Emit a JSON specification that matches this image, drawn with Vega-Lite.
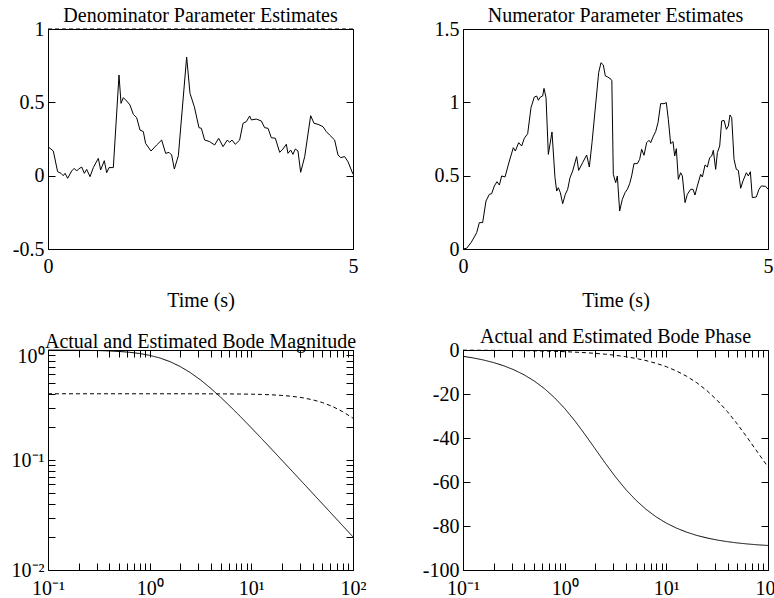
{
  "$schema": "https://vega.github.io/schema/vega-lite/v6.json",
  "background": "white",
  "padding": {"left": 11, "top": 6, "right": 5, "bottom": 0},
  "config": {
    "font": "Liberation Serif",
    "view": {"stroke": null},
    "axis": {
      "grid": false,
      "domainColor": "black",
      "domainWidth": 1,
      "tickColor": "black",
      "tickWidth": 1,
      "tickSize": -7,
      "labelPadding": 11,
      "labelColor": "black",
      "labelFont": "Liberation Serif",
      "labelFontSize": 20,
      "labelOverlap": false,
      "labelBound": false,
      "labelFlush": false,
      "titleFont": "Liberation Serif",
      "titleFontSize": 20,
      "titleFontWeight": "normal",
      "titleColor": "black"
    },
    "axisX": {"labelPadding": 14},
    "title": {"font": "Liberation Serif", "fontSize": 20, "fontWeight": "normal", "color": "black", "offset": -7, "anchor": "middle"},
    "line": {"color": "black", "strokeWidth": 1}
  },
  "datasets": {
    "den": [
      {"t": 0, "v": 0.198}, {"t": 0.087, "v": 0.168}, {"t": 0.158, "v": 0.027}, {"t": 0.213, "v": 0.016}, {"t": 0.25, "v": 0.0},
      {"t": 0.28, "v": 0.016}, {"t": 0.322, "v": -0.018}, {"t": 0.388, "v": 0.032}, {"t": 0.43, "v": 0.05}, {"t": 0.47, "v": 0.032},
      {"t": 0.5, "v": 0.045}, {"t": 0.552, "v": 0.059}, {"t": 0.596, "v": 0.016}, {"t": 0.634, "v": 0.043}, {"t": 0.689, "v": -0.007},
      {"t": 0.743, "v": 0.055}, {"t": 0.825, "v": 0.118}, {"t": 0.863, "v": 0.039}, {"t": 0.923, "v": 0.102}, {"t": 0.962, "v": 0.02},
      {"t": 1.0, "v": 0.055}, {"t": 1.071, "v": 0.055}, {"t": 1.164, "v": 0.686}, {"t": 1.197, "v": 0.493}, {"t": 1.235, "v": 0.532},
      {"t": 1.29, "v": 0.509}, {"t": 1.344, "v": 0.482}, {"t": 1.399, "v": 0.418}, {"t": 1.454, "v": 0.395}, {"t": 1.508, "v": 0.311},
      {"t": 1.563, "v": 0.3}, {"t": 1.6, "v": 0.22}, {"t": 1.689, "v": 0.168}, {"t": 1.781, "v": 0.209}, {"t": 1.863, "v": 0.243},
      {"t": 1.929, "v": 0.152}, {"t": 1.984, "v": 0.159}, {"t": 2.027, "v": 0.141}, {"t": 2.071, "v": 0.045}, {"t": 2.137, "v": 0.136},
      {"t": 2.273, "v": 0.809}, {"t": 2.328, "v": 0.561}, {"t": 2.399, "v": 0.47}, {"t": 2.475, "v": 0.327}, {"t": 2.514, "v": 0.323},
      {"t": 2.568, "v": 0.243}, {"t": 2.65, "v": 0.232}, {"t": 2.732, "v": 0.209}, {"t": 2.798, "v": 0.255}, {"t": 2.869, "v": 0.198},
      {"t": 2.94, "v": 0.243}, {"t": 2.978, "v": 0.227}, {"t": 3.016, "v": 0.243}, {"t": 3.071, "v": 0.214}, {"t": 3.142, "v": 0.243},
      {"t": 3.197, "v": 0.357}, {"t": 3.251, "v": 0.368}, {"t": 3.306, "v": 0.407}, {"t": 3.333, "v": 0.38}, {"t": 3.415, "v": 0.386},
      {"t": 3.497, "v": 0.373}, {"t": 3.552, "v": 0.327}, {"t": 3.607, "v": 0.323}, {"t": 3.661, "v": 0.259}, {"t": 3.727, "v": 0.255},
      {"t": 3.798, "v": 0.159}, {"t": 3.852, "v": 0.182}, {"t": 3.907, "v": 0.214}, {"t": 3.934, "v": 0.152}, {"t": 3.978, "v": 0.175},
      {"t": 4.016, "v": 0.145}, {"t": 4.054, "v": 0.182}, {"t": 4.098, "v": 0.168}, {"t": 4.142, "v": 0.023}, {"t": 4.208, "v": 0.13},
      {"t": 4.306, "v": 0.409}, {"t": 4.361, "v": 0.357}, {"t": 4.426, "v": 0.35}, {"t": 4.508, "v": 0.334}, {"t": 4.563, "v": 0.3},
      {"t": 4.617, "v": 0.277}, {"t": 4.699, "v": 0.243}, {"t": 4.754, "v": 0.141}, {"t": 4.798, "v": 0.123}, {"t": 4.863, "v": 0.13},
      {"t": 4.918, "v": 0.095}, {"t": 5.0, "v": 0.01}
    ],
    "denTrue": [{"t": 0, "v": 1}, {"t": 5, "v": 1}],
    "num": [
      {"t": 0, "v": 0}, {"t": 0.06, "v": 0.005}, {"t": 0.131, "v": 0.043}, {"t": 0.186, "v": 0.082}, {"t": 0.224, "v": 0.111},
      {"t": 0.268, "v": 0.18}, {"t": 0.322, "v": 0.18}, {"t": 0.377, "v": 0.327}, {"t": 0.432, "v": 0.373}, {"t": 0.47, "v": 0.377},
      {"t": 0.514, "v": 0.43}, {"t": 0.557, "v": 0.459}, {"t": 0.596, "v": 0.436}, {"t": 0.634, "v": 0.498}, {"t": 0.689, "v": 0.491},
      {"t": 0.76, "v": 0.6}, {"t": 0.825, "v": 0.691}, {"t": 0.858, "v": 0.668}, {"t": 0.913, "v": 0.725}, {"t": 0.962, "v": 0.702},
      {"t": 1.005, "v": 0.755}, {"t": 1.06, "v": 0.786}, {"t": 1.115, "v": 0.964}, {"t": 1.169, "v": 1.036}, {"t": 1.208, "v": 1.043},
      {"t": 1.235, "v": 1.014}, {"t": 1.268, "v": 1.036}, {"t": 1.306, "v": 1.043}, {"t": 1.328, "v": 1.095}, {"t": 1.361, "v": 1.032},
      {"t": 1.399, "v": 0.645}, {"t": 1.459, "v": 0.798}, {"t": 1.508, "v": 0.486}, {"t": 1.536, "v": 0.395}, {"t": 1.563, "v": 0.418},
      {"t": 1.596, "v": 0.384}, {"t": 1.634, "v": 0.309}, {"t": 1.678, "v": 0.373}, {"t": 1.716, "v": 0.407}, {"t": 1.754, "v": 0.486},
      {"t": 1.798, "v": 0.532}, {"t": 1.863, "v": 0.63}, {"t": 1.896, "v": 0.536}, {"t": 1.962, "v": 0.589}, {"t": 2.027, "v": 0.641},
      {"t": 2.071, "v": 0.559}, {"t": 2.115, "v": 0.725}, {"t": 2.18, "v": 1.009}, {"t": 2.224, "v": 1.202}, {"t": 2.262, "v": 1.27},
      {"t": 2.3, "v": 1.255}, {"t": 2.333, "v": 1.18}, {"t": 2.372, "v": 1.173}, {"t": 2.426, "v": 1.157}, {"t": 2.44, "v": 1.15},
      {"t": 2.464, "v": 0.509}, {"t": 2.503, "v": 0.452}, {"t": 2.53, "v": 0.498}, {"t": 2.568, "v": 0.259}, {"t": 2.612, "v": 0.339},
      {"t": 2.656, "v": 0.384}, {"t": 2.694, "v": 0.407}, {"t": 2.732, "v": 0.445}, {"t": 2.765, "v": 0.498}, {"t": 2.803, "v": 0.582},
      {"t": 2.858, "v": 0.582}, {"t": 2.896, "v": 0.611}, {"t": 2.929, "v": 0.68}, {"t": 2.967, "v": 0.639}, {"t": 3.011, "v": 0.725},
      {"t": 3.049, "v": 0.741}, {"t": 3.077, "v": 0.725}, {"t": 3.115, "v": 0.764}, {"t": 3.158, "v": 0.8}, {"t": 3.197, "v": 0.861},
      {"t": 3.24, "v": 0.991}, {"t": 3.295, "v": 0.991}, {"t": 3.333, "v": 0.998}, {"t": 3.366, "v": 0.884}, {"t": 3.404, "v": 0.718},
      {"t": 3.443, "v": 0.732}, {"t": 3.47, "v": 0.634}, {"t": 3.497, "v": 0.684}, {"t": 3.53, "v": 0.475}, {"t": 3.568, "v": 0.52},
      {"t": 3.596, "v": 0.498}, {"t": 3.64, "v": 0.316}, {"t": 3.678, "v": 0.373}, {"t": 3.733, "v": 0.407}, {"t": 3.771, "v": 0.407},
      {"t": 3.803, "v": 0.368}, {"t": 3.842, "v": 0.43}, {"t": 3.896, "v": 0.509}, {"t": 3.924, "v": 0.491}, {"t": 3.968, "v": 0.573},
      {"t": 4.006, "v": 0.559}, {"t": 4.044, "v": 0.623}, {"t": 4.077, "v": 0.634}, {"t": 4.104, "v": 0.673}, {"t": 4.142, "v": 0.543},
      {"t": 4.17, "v": 0.657}, {"t": 4.208, "v": 0.702}, {"t": 4.241, "v": 0.873}, {"t": 4.279, "v": 0.877}, {"t": 4.318, "v": 0.816},
      {"t": 4.35, "v": 0.839}, {"t": 4.377, "v": 0.914}, {"t": 4.405, "v": 0.895}, {"t": 4.443, "v": 0.611}, {"t": 4.481, "v": 0.543},
      {"t": 4.514, "v": 0.536}, {"t": 4.552, "v": 0.414}, {"t": 4.59, "v": 0.464}, {"t": 4.645, "v": 0.52}, {"t": 4.678, "v": 0.498},
      {"t": 4.711, "v": 0.527}, {"t": 4.743, "v": 0.35}, {"t": 4.809, "v": 0.355}, {"t": 4.852, "v": 0.407}, {"t": 4.891, "v": 0.43},
      {"t": 4.962, "v": 0.427}, {"t": 5.0, "v": 0.407}
    ],
    "bode": [
      {"s": "Actual", "w": 0.1, "mag": 0.99875, "phase": -2.862},
      {"s": "Actual", "w": 0.1259, "mag": 0.99803, "phase": -3.602},
      {"s": "Actual", "w": 0.1585, "mag": 0.99688, "phase": -4.531},
      {"s": "Actual", "w": 0.1995, "mag": 0.99506, "phase": -5.696},
      {"s": "Actual", "w": 0.2512, "mag": 0.99222, "phase": -7.159},
      {"s": "Actual", "w": 0.3162, "mag": 0.98773, "phase": -8.985},
      {"s": "Actual", "w": 0.3981, "mag": 0.98076, "phase": -11.257},
      {"s": "Actual", "w": 0.5012, "mag": 0.97, "phase": -14.07},
      {"s": "Actual", "w": 0.631, "mag": 0.95368, "phase": -17.51},
      {"s": "Actual", "w": 0.7943, "mag": 0.92942, "phase": -21.66},
      {"s": "Actual", "w": 1, "mag": 0.89443, "phase": -26.565},
      {"s": "Actual", "w": 1.259, "mag": 0.84632, "phase": -32.19},
      {"s": "Actual", "w": 1.585, "mag": 0.78369, "phase": -38.4},
      {"s": "Actual", "w": 1.995, "mag": 0.70799, "phase": -44.93},
      {"s": "Actual", "w": 2.512, "mag": 0.6229, "phase": -51.47},
      {"s": "Actual", "w": 3.162, "mag": 0.53457, "phase": -57.68},
      {"s": "Actual", "w": 3.981, "mag": 0.44895, "phase": -63.33},
      {"s": "Actual", "w": 5.012, "mag": 0.37064, "phase": -68.24},
      {"s": "Actual", "w": 6.31, "mag": 0.30215, "phase": -72.41},
      {"s": "Actual", "w": 7.943, "mag": 0.24421, "phase": -75.87},
      {"s": "Actual", "w": 10, "mag": 0.19612, "phase": -78.69},
      {"s": "Actual", "w": 12.59, "mag": 0.15689, "phase": -80.97},
      {"s": "Actual", "w": 15.85, "mag": 0.1252, "phase": -82.81},
      {"s": "Actual", "w": 19.95, "mag": 0.09975, "phase": -84.28},
      {"s": "Actual", "w": 25.12, "mag": 0.07937, "phase": -85.45},
      {"s": "Actual", "w": 31.62, "mag": 0.06311, "phase": -86.38},
      {"s": "Actual", "w": 39.81, "mag": 0.05018, "phase": -87.12},
      {"s": "Actual", "w": 50.12, "mag": 0.03988, "phase": -87.71},
      {"s": "Actual", "w": 63.1, "mag": 0.03169, "phase": -88.18},
      {"s": "Actual", "w": 79.43, "mag": 0.02517, "phase": -88.56},
      {"s": "Actual", "w": 100, "mag": 0.019996, "phase": -88.85},
      {"s": "Estimated", "w": 0.1, "mag": 0.4, "phase": -0.076},
      {"s": "Estimated", "w": 0.1259, "mag": 0.4, "phase": -0.096},
      {"s": "Estimated", "w": 0.1585, "mag": 0.4, "phase": -0.121},
      {"s": "Estimated", "w": 0.1995, "mag": 0.4, "phase": -0.152},
      {"s": "Estimated", "w": 0.2512, "mag": 0.4, "phase": -0.192},
      {"s": "Estimated", "w": 0.3162, "mag": 0.4, "phase": -0.242},
      {"s": "Estimated", "w": 0.3981, "mag": 0.4, "phase": -0.304},
      {"s": "Estimated", "w": 0.5012, "mag": 0.39999, "phase": -0.383},
      {"s": "Estimated", "w": 0.631, "mag": 0.39999, "phase": -0.482},
      {"s": "Estimated", "w": 0.7943, "mag": 0.39998, "phase": -0.607},
      {"s": "Estimated", "w": 1, "mag": 0.39996, "phase": -0.764},
      {"s": "Estimated", "w": 1.259, "mag": 0.39994, "phase": -0.962},
      {"s": "Estimated", "w": 1.585, "mag": 0.39991, "phase": -1.211},
      {"s": "Estimated", "w": 1.995, "mag": 0.39986, "phase": -1.524},
      {"s": "Estimated", "w": 2.512, "mag": 0.39978, "phase": -1.918},
      {"s": "Estimated", "w": 3.162, "mag": 0.39965, "phase": -2.414},
      {"s": "Estimated", "w": 3.981, "mag": 0.39944, "phase": -3.038},
      {"s": "Estimated", "w": 5.012, "mag": 0.39911, "phase": -3.823},
      {"s": "Estimated", "w": 6.31, "mag": 0.39859, "phase": -4.809},
      {"s": "Estimated", "w": 7.943, "mag": 0.39778, "phase": -6.046},
      {"s": "Estimated", "w": 10, "mag": 0.39649, "phase": -7.595},
      {"s": "Estimated", "w": 12.59, "mag": 0.39449, "phase": -9.529},
      {"s": "Estimated", "w": 15.85, "mag": 0.39135, "phase": -11.933},
      {"s": "Estimated", "w": 19.95, "mag": 0.38655, "phase": -14.896},
      {"s": "Estimated", "w": 25.12, "mag": 0.3793, "phase": -18.516},
      {"s": "Estimated", "w": 31.62, "mag": 0.36858, "phase": -22.862},
      {"s": "Estimated", "w": 39.81, "mag": 0.35329, "phase": -27.96},
      {"s": "Estimated", "w": 50.12, "mag": 0.33257, "phase": -33.75},
      {"s": "Estimated", "w": 63.1, "mag": 0.3061, "phase": -40.08},
      {"s": "Estimated", "w": 79.43, "mag": 0.27459, "phase": -46.64},
      {"s": "Estimated", "w": 100, "mag": 0.24, "phase": -53.13}
    ]
  },
  "columns": 2,
  "bounds": "flush",
  "spacing": {"column": 110, "row": 101},
  "concat": [
    {
      "width": 305, "height": 220,
      "title": "Denominator Parameter Estimates",
      "layer": [
        {
          "data": {"name": "den"},
          "mark": {"type": "line", "color": "black", "strokeWidth": 1},
          "encoding": {
            "x": {"field": "t", "type": "quantitative", "scale": {"domain": [0, 5], "nice": false}, "axis": {"values": [0, 5], "title": "Time (s)", "titlePadding": 14, "labelExpr": "'' + datum.value"}},
            "y": {"field": "v", "type": "quantitative", "scale": {"domain": [-0.5, 1], "nice": false, "zero": false}, "axis": {"values": [-0.5, 0, 0.5, 1], "title": null, "labelExpr": "'' + datum.value"}}
          }
        },
        {
          "data": {"name": "denTrue"},
          "mark": {"type": "line", "color": "black", "strokeWidth": 1, "strokeDash": [4, 3]},
          "encoding": {
            "x": {"field": "t", "type": "quantitative", "axis": null},
            "y": {"field": "v", "type": "quantitative", "axis": null}
          }
        },
        {
          "data": {"name": "den"},
          "mark": {"type": "line", "opacity": 0},
          "encoding": {
            "x": {"field": "t", "type": "quantitative", "axis": {"orient": "top", "values": [0, 5], "labels": false, "title": null}},
            "y": {"field": "v", "type": "quantitative", "axis": {"orient": "right", "values": [-0.5, 0, 0.5, 1], "labels": false, "title": null}}
          }
        }
      ],
      "resolve": {"axis": {"x": "independent", "y": "independent"}}
    },
    {
      "width": 305, "height": 220,
      "title": "Numerator Parameter Estimates",
      "layer": [
        {
          "data": {"name": "num"},
          "mark": {"type": "line", "color": "black", "strokeWidth": 1},
          "encoding": {
            "x": {"field": "t", "type": "quantitative", "scale": {"domain": [0, 5], "nice": false}, "axis": {"values": [0, 5], "title": "Time (s)", "titlePadding": 14, "labelExpr": "'' + datum.value"}},
            "y": {"field": "v", "type": "quantitative", "scale": {"domain": [0, 1.5], "nice": false}, "axis": {"values": [0, 0.5, 1, 1.5], "title": null, "labelExpr": "'' + datum.value"}}
          }
        },
        {
          "data": {"name": "num"},
          "mark": {"type": "line", "opacity": 0},
          "encoding": {
            "x": {"field": "t", "type": "quantitative", "axis": {"orient": "top", "values": [0, 5], "labels": false, "title": null}},
            "y": {"field": "v", "type": "quantitative", "axis": {"orient": "right", "values": [0, 0.5, 1, 1.5], "labels": false, "title": null}}
          }
        }
      ],
      "resolve": {"axis": {"x": "independent", "y": "independent"}}
    },
    {
      "width": 305, "height": 220,
      "title": "Actual and Estimated Bode Magnitude",
      "data": {"name": "bode"},
      "layer": [
        {
          "mark": {"type": "line", "color": "black", "strokeWidth": 1},
          "encoding": {
            "x": {"field": "w", "type": "quantitative", "scale": {"type": "log", "domain": [0.1, 100], "nice": false}, "axis": {"values": [0.1, 0.2, 0.3, 0.4, 0.5, 0.6, 0.7, 0.8, 0.9, 1, 2, 3, 4, 5, 6, 7, 8, 9, 10, 20, 30, 40, 50, 60, 70, 80, 90, 100], "title": null, "labelPadding": 15, "labelExpr": "datum.value == 0.1 ? '10\u207b\u00b9' : datum.value == 1 ? '10\u2070' : datum.value == 10 ? '10\u00b9' : datum.value == 100 ? '10\u00b2' : ''"}},
            "y": {"field": "mag", "type": "quantitative", "scale": {"type": "log", "domain": [0.01, 1], "nice": false}, "axis": {"values": [0.01, 0.02, 0.03, 0.04, 0.05, 0.06, 0.07, 0.08, 0.09, 0.1, 0.2, 0.3, 0.4, 0.5, 0.6, 0.7, 0.8, 0.9, 1], "title": null, "labelOffset": {"condition": {"test": "datum.value == 1", "value": 6}, "value": 0}, "labelExpr": "datum.value == 0.01 ? '10\u207b\u00b2' : datum.value == 0.1 ? '10\u207b\u00b9' : datum.value == 1 ? '10\u2070' : ''"}},
            "strokeDash": {"field": "s", "type": "nominal", "scale": {"domain": ["Actual", "Estimated"], "range": [[1, 0], [4, 3]]}, "legend": null}
          }
        },
        {
          "mark": {"type": "line", "opacity": 0},
          "encoding": {
            "x": {"field": "w", "type": "quantitative", "axis": {"orient": "top", "values": [0.1, 0.2, 0.3, 0.4, 0.5, 0.6, 0.7, 0.8, 0.9, 1, 2, 3, 4, 5, 6, 7, 8, 9, 10, 20, 30, 40, 50, 60, 70, 80, 90, 100], "labels": false, "title": null}},
            "y": {"field": "mag", "type": "quantitative", "axis": {"orient": "right", "values": [0.01, 0.02, 0.03, 0.04, 0.05, 0.06, 0.07, 0.08, 0.09, 0.1, 0.2, 0.3, 0.4, 0.5, 0.6, 0.7, 0.8, 0.9, 1], "labels": false, "title": null}},
            "detail": {"field": "s", "type": "nominal"}
          }
        }
      ],
      "resolve": {"axis": {"x": "independent", "y": "independent"}}
    },
    {
      "width": 305, "height": 220,
      "title": "Actual and Estimated Bode Phase",
      "data": {"name": "bode"},
      "layer": [
        {
          "mark": {"type": "line", "color": "black", "strokeWidth": 1},
          "encoding": {
            "x": {"field": "w", "type": "quantitative", "scale": {"type": "log", "domain": [0.1, 100], "nice": false}, "axis": {"values": [0.1, 0.2, 0.3, 0.4, 0.5, 0.6, 0.7, 0.8, 0.9, 1, 2, 3, 4, 5, 6, 7, 8, 9, 10, 20, 30, 40, 50, 60, 70, 80, 90, 100], "title": null, "labelPadding": 15, "labelExpr": "datum.value == 0.1 ? '10\u207b\u00b9' : datum.value == 1 ? '10\u2070' : datum.value == 10 ? '10\u00b9' : datum.value == 100 ? '10\u00b2' : ''"}},
            "y": {"field": "phase", "type": "quantitative", "scale": {"domain": [-100, 0], "nice": false}, "axis": {"values": [-100, -80, -60, -40, -20, 0], "title": null, "labelExpr": "'' + datum.value"}},
            "strokeDash": {"field": "s", "type": "nominal", "scale": {"domain": ["Actual", "Estimated"], "range": [[1, 0], [4, 3]]}, "legend": null}
          }
        },
        {
          "mark": {"type": "line", "opacity": 0},
          "encoding": {
            "x": {"field": "w", "type": "quantitative", "axis": {"orient": "top", "values": [0.1, 0.2, 0.3, 0.4, 0.5, 0.6, 0.7, 0.8, 0.9, 1, 2, 3, 4, 5, 6, 7, 8, 9, 10, 20, 30, 40, 50, 60, 70, 80, 90, 100], "labels": false, "title": null}},
            "y": {"field": "phase", "type": "quantitative", "axis": {"orient": "right", "values": [-100, -80, -60, -40, -20, 0], "labels": false, "title": null}},
            "detail": {"field": "s", "type": "nominal"}
          }
        }
      ],
      "resolve": {"axis": {"x": "independent", "y": "independent"}}
    }
  ]
}
